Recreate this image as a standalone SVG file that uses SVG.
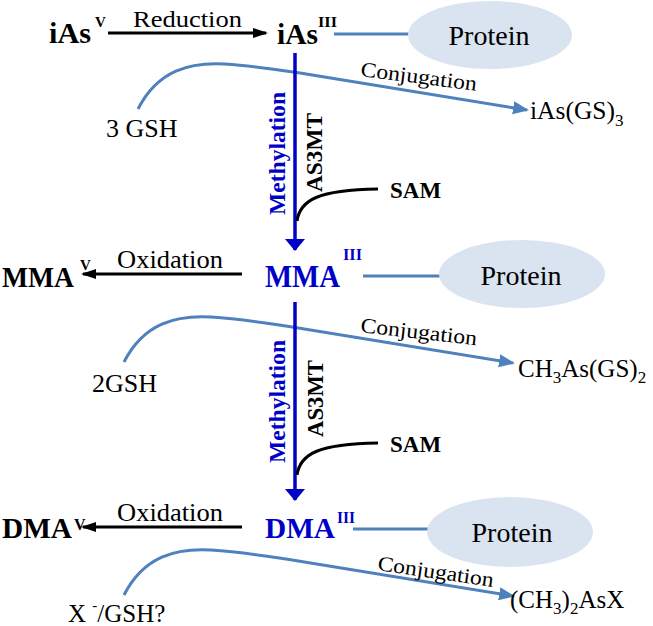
<svg xmlns="http://www.w3.org/2000/svg" width="653" height="626" viewBox="0 0 653 626" font-family="'Liberation Serif', 'DejaVu Serif', serif">
<style>
text{font-family:'Liberation Serif','DejaVu Serif',serif}
.t{fill:#000}
.b{font-weight:bold}
.dk{fill:#0000C8}
.conj{stroke:#4F81BD;stroke-width:3;fill:none}
.link{stroke:#4F81BD;stroke-width:3;fill:none}
.sam{stroke:#000;stroke-width:3;fill:none}
.meth{stroke:#0000C8;stroke-width:3.5;fill:none}
.blk{stroke:#000;stroke-width:3;fill:none}
.ell{fill:#DAE3F0}
</style>
<defs>
<marker id="ab" markerUnits="userSpaceOnUse" markerWidth="16" markerHeight="12" refX="13" refY="5" orient="auto"><path d="M0,0 L15,5 L0,10 z" fill="#000"/></marker>
<marker id="ac" markerUnits="userSpaceOnUse" markerWidth="17" markerHeight="14" refX="14" refY="6.5" orient="auto"><path d="M0,0 L16,6.5 L0,13 z" fill="#4F81BD"/></marker>
<marker id="am" markerUnits="userSpaceOnUse" markerWidth="14" markerHeight="22" refX="11" refY="10" orient="auto"><path d="M0,0 L12,10 L0,20 z" fill="#0000C8"/></marker>
</defs>

<g id="connectors">
  <line class="blk" x1="108" y1="33" x2="266" y2="33" marker-end="url(#ab)"/>
  <line class="link" x1="334" y1="34" x2="409" y2="34"/>
  <path class="conj" d="M138 109 C158 70,190 62,225 64 C255 66,280 70,300 73 L527 110" marker-end="url(#ac)"/>
  <line class="meth" x1="295" y1="53" x2="295" y2="250" marker-end="url(#am)"/>
  <path class="sam" d="M297 221 C300 200,318 190,378 189"/>
  <line class="blk" x1="242" y1="274" x2="83" y2="274" marker-end="url(#ab)"/>
  <line class="link" x1="363" y1="276" x2="441" y2="276"/>
  <path class="conj" transform="translate(-14,253)" d="M138 109 C158 70,190 62,225 64 C255 66,280 70,300 73 L527 110" marker-end="url(#ac)"/>
  <line class="meth" x1="295" y1="302" x2="295" y2="500" marker-end="url(#am)"/>
  <path class="sam" transform="translate(0,254)" d="M297 221 C300 200,318 190,378 189"/>
  <line class="blk" x1="242" y1="527" x2="83" y2="527" marker-end="url(#ab)"/>
  <line class="link" x1="353" y1="529" x2="429" y2="529"/>
  <path class="conj" transform="translate(-14,486)" d="M138 109 C158 70,190 62,225 64 C255 66,280 70,300 73 L527 110" marker-end="url(#ac)"/>
</g>

<g id="labels">
  <text class="t" x="133" y="27" font-size="24" textLength="109" lengthAdjust="spacingAndGlyphs">Reduction</text>
  <text class="t" font-size="21" textLength="117" lengthAdjust="spacingAndGlyphs" transform="translate(360,76) rotate(7.3)">Conjugation</text>
  <text class="t" font-size="21" textLength="117" lengthAdjust="spacingAndGlyphs" transform="translate(360,332) rotate(6.5)">Conjugation</text>
  <text class="t" font-size="21" textLength="117" lengthAdjust="spacingAndGlyphs" transform="translate(377,570) rotate(8.3)">Conjugation</text>
  <text class="t b dk" font-size="24" textLength="123" lengthAdjust="spacingAndGlyphs" transform="translate(285,215) rotate(-90)">Methylation</text>
  <text class="t b" font-size="23" textLength="79" lengthAdjust="spacingAndGlyphs" transform="translate(322,192) rotate(-90)">AS3MT</text>
  <text class="t b dk" font-size="24" textLength="123" lengthAdjust="spacingAndGlyphs" transform="translate(285,463) rotate(-90)">Methylation</text>
  <text class="t b" font-size="23" textLength="77" lengthAdjust="spacingAndGlyphs" transform="translate(323,437) rotate(-90)">AS3MT</text>
  <text class="t" x="117" y="268" font-size="25" textLength="106" lengthAdjust="spacingAndGlyphs">Oxidation</text>
  <text class="t" x="117" y="521" font-size="25" textLength="106" lengthAdjust="spacingAndGlyphs">Oxidation</text>
</g>

<g id="iAsV"><text class="t b" x="49" y="43" font-size="30" textLength="42" lengthAdjust="spacingAndGlyphs">iAs</text><text class="t b" x="95" y="27" font-size="15">V</text></g>
<g id="iAsIII"><text class="t b" x="277" y="44" font-size="30" textLength="41" lengthAdjust="spacingAndGlyphs">iAs</text><text class="t b" x="318" y="27" font-size="15" textLength="19" lengthAdjust="spacingAndGlyphs">III</text></g>
<g id="protein1"><ellipse class="ell" cx="490" cy="35" rx="82" ry="34"/><text class="t" x="489" y="45" font-size="28" text-anchor="middle">Protein</text></g>
<g id="gsh3"><text class="t" x="106" y="137" font-size="26">3 GSH</text></g>
<g id="iAsGS3"><text class="t" x="530" y="119" font-size="25" textLength="85" lengthAdjust="spacingAndGlyphs">iAs(GS)</text><text class="t" x="615" y="126" font-size="17">3</text></g>
<g id="sam1"><text class="t b" x="390" y="198" font-size="23">SAM</text></g>

<g id="MMAV"><text class="t b" x="2" y="287" font-size="30" textLength="72" lengthAdjust="spacingAndGlyphs">MMA</text><text class="t b" x="80" y="270" font-size="15">V</text></g>
<g id="MMAIII"><text class="t b dk" x="265" y="287" font-size="31" textLength="75" lengthAdjust="spacingAndGlyphs">MMA</text><text class="t b dk" x="343" y="260" font-size="16" textLength="19" lengthAdjust="spacingAndGlyphs">III</text></g>
<g id="protein2"><ellipse class="ell" cx="522" cy="274" rx="83" ry="34"/><text class="t" x="521" y="285" font-size="28" text-anchor="middle">Protein</text></g>
<g id="gsh2"><text class="t" x="92" y="392" font-size="26">2GSH</text></g>
<g id="CH3AsGS2"><text class="t" x="518" y="377" font-size="25">CH<tspan font-size="17" dy="6">3</tspan><tspan dy="-6">As(GS)</tspan><tspan font-size="17" dy="6">2</tspan></text></g>
<g id="sam2"><text class="t b" x="390" y="452" font-size="23">SAM</text></g>

<g id="DMAV"><text class="t b" x="2" y="538" font-size="30" textLength="70" lengthAdjust="spacingAndGlyphs">DMA</text><text class="t b" x="74" y="530" font-size="16">V</text></g>
<g id="DMAIII"><text class="t b dk" x="265" y="538" font-size="30" textLength="70" lengthAdjust="spacingAndGlyphs">DMA</text><text class="t b dk" x="337" y="523" font-size="16" textLength="18" lengthAdjust="spacingAndGlyphs">III</text></g>
<g id="protein3"><ellipse class="ell" cx="510" cy="532" rx="83" ry="35"/><text class="t" x="512" y="542" font-size="28" text-anchor="middle">Protein</text></g>
<g id="xgsh"><text class="t" x="68" y="622" font-size="25">X <tspan font-size="15" dy="-12">-</tspan><tspan dy="12">/GSH?</tspan></text></g>
<g id="CH32AsX"><text class="t" x="510" y="608" font-size="25">(CH<tspan font-size="17" dy="6">3</tspan><tspan dy="-6">)</tspan><tspan font-size="17" dy="6">2</tspan><tspan dy="-6">AsX</tspan></text></g>
</svg>
